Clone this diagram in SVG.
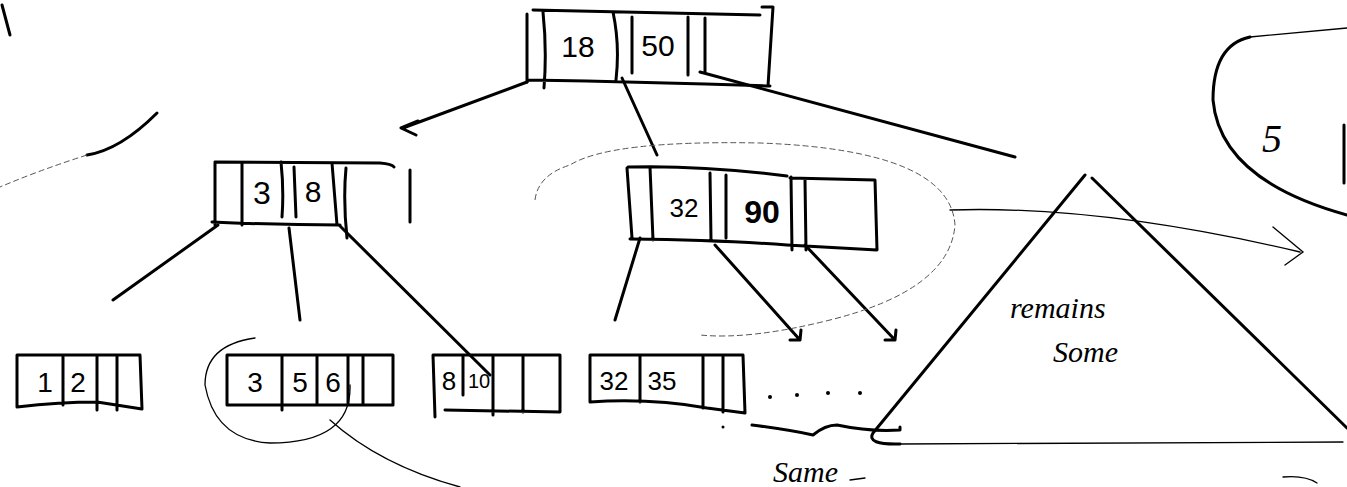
<svg xmlns="http://www.w3.org/2000/svg" width="1347" height="487" viewBox="0 0 1347 487">
<style>
.p{fill:none;stroke:#000;stroke-width:3;stroke-linecap:round;stroke-linejoin:round}
.t{fill:none;stroke:#000;stroke-width:1.3;stroke-linecap:round}
.f{fill:none;stroke:#555;stroke-width:1;stroke-dasharray:6 3}
.n{font-family:"Liberation Sans",sans-serif;fill:#000;text-anchor:middle}
.h{font-family:"Liberation Serif",serif;font-style:italic;fill:#000}
</style>
<rect width="1347" height="487" fill="#fff"/>
<g id="root">
<path class="p" d="M527,14 L527,82 M543,12 Q547,50 544,88 M533,10 L760,15 M762,7 L773,7 L768,86 M527,80 Q650,82 770,86 M613,12 Q620,45 616,80 M632,17 L632,73 M688,17 L688,75 M705,18 L705,72"/>
<text class="n" x="578" y="57" font-size="30">18</text>
<text class="n" x="658" y="56" font-size="30">50</text>
</g>
<g id="left-node">
<path class="p" d="M215,162 L215,225 M215,162 L380,163 Q392,164 394,167 M410,170 L410,222 M212,222 Q280,225 340,225 M242,163 L242,225 M281,162 Q284,190 282,217 M294,167 L296,217 M332,163 L337,225 M346,168 Q343,200 347,238"/>
<text class="n" x="262" y="204" font-size="32">3</text>
<text class="n" x="313" y="202" font-size="30">8</text>
</g>
<g id="right-node">
<path class="p" d="M627,168 L632,238 M650,167 L653,240 M628,167 Q700,165 787,176 M790,178 L875,180 L877,250 M630,239 Q720,240 787,245 L877,250 M710,173 L711,240 M726,175 L726,238 M791,177 L792,250 M805,180 L806,250"/>
<text class="n" x="684" y="217" font-size="26">32</text>
<text class="n" x="762" y="223" font-size="32" font-weight="bold">90</text>
</g>
<g id="leaf1">
<path class="p" d="M17,355 L17,407 Q60,402 97,402 L142,409 L140,355 M17,355 L140,355 M63,355 L63,405 M97,355 L97,410 M117,355 L117,410"/>
<text class="n" x="45" y="392" font-size="28">1</text>
<text class="n" x="78" y="392" font-size="28">2</text>
</g>
<g id="leaf2">
<path class="p" d="M227,355 L227,405 L393,405 L393,355 L227,355 M282,355 L282,410 M317,355 L317,405 M348,355 L348,405 M363,355 L363,405"/>
<text class="n" x="255" y="392" font-size="28">3</text>
<text class="n" x="300" y="392" font-size="28">5</text>
<text class="n" x="333" y="392" font-size="28">6</text>
</g>
<g id="leaf3">
<path class="p" d="M433,355 L435,417 M445,410 L560,412 L560,355 L433,355 M463,355 L463,395 M493,355 L493,415 M523,355 L523,412"/>
<text class="n" x="449" y="390" font-size="26">8</text>
<text class="n" x="479" y="388" font-size="20">10</text>
</g>
<g id="leaf4">
<path class="p" d="M590,355 L590,402 Q650,398 707,408 L745,413 L743,355 L590,355 M640,355 L640,402 M703,355 L703,408 M723,355 L723,412"/>
<text class="n" x="614" y="390" font-size="26">32</text>
<text class="n" x="662" y="390" font-size="26">35</text>
</g>
<g id="triangle">
<path class="p" d="M1085,175 L873,433 Q866,445 900,444 M1092,178 L1347,428"/>
<path class="t" d="M900,444 L1343,442"/>
<text class="h" x="1010" y="318" font-size="30">remains</text>
<text class="h" x="1053" y="362" font-size="30">Some</text>
</g>
<g id="loop">
<path class="p" d="M1250,37 Q1213,45 1213,100 Q1220,180 1347,215"/>
<path class="t" d="M1250,37 L1347,28"/>
<text class="h" x="1262" y="152" font-size="40">5</text>
<path class="p" d="M1344,125 L1344,183"/>
</g>
<g id="connectors">
<path class="p" d="M527,82 L403,128 M418,121 L401,128 L416,135"/>
<path class="p" d="M622,78 L657,155"/>
<path class="p" d="M700,72 L1015,157"/>
<path class="p" d="M218,225 L113,300 M289,228 L300,320 M340,226 L490,375"/>
<path class="p" d="M640,238 L615,320"/>
<path class="p" d="M715,245 L800,340 M790,340 L800,340 L801,330"/>
<path class="p" d="M805,245 L895,340 M885,340 L895,340 L896,330"/>
<path class="t" d="M950,210 Q1100,205 1300,252 M1273,227 L1303,252 L1285,265"/>
<path class="f" d="M535,200 Q538,175 570,165 Q610,140 760,143 Q950,150 955,225 Q950,290 830,320 Q750,340 700,335"/>
<path class="t" d="M350,385 Q352,443 270,443 Q215,440 205,385 Q205,345 255,338"/>
<path class="t" d="M330,420 Q380,465 460,487"/>
<path class="p" d="M752,425 Q790,430 813,435 Q825,425 837,425 Q870,432 900,430 L900,427"/>
<path class="p" d="M2,5 L10,35"/>
<path class="p" d="M157,113 Q120,150 87,155"/>
<path class="f" d="M87,155 Q40,170 0,187"/>
<path class="t" d="M1283,477 Q1305,475 1317,483 M850,480 L865,478"/>
</g>
<g id="dots">
<circle cx="770" cy="397" r="2"/><circle cx="797" cy="395" r="2"/><circle cx="828" cy="393" r="2"/><circle cx="860" cy="393" r="2"/><circle cx="723" cy="427" r="1.5"/>
</g>
<text class="h" x="773" y="482" font-size="30">Same</text>
</svg>
